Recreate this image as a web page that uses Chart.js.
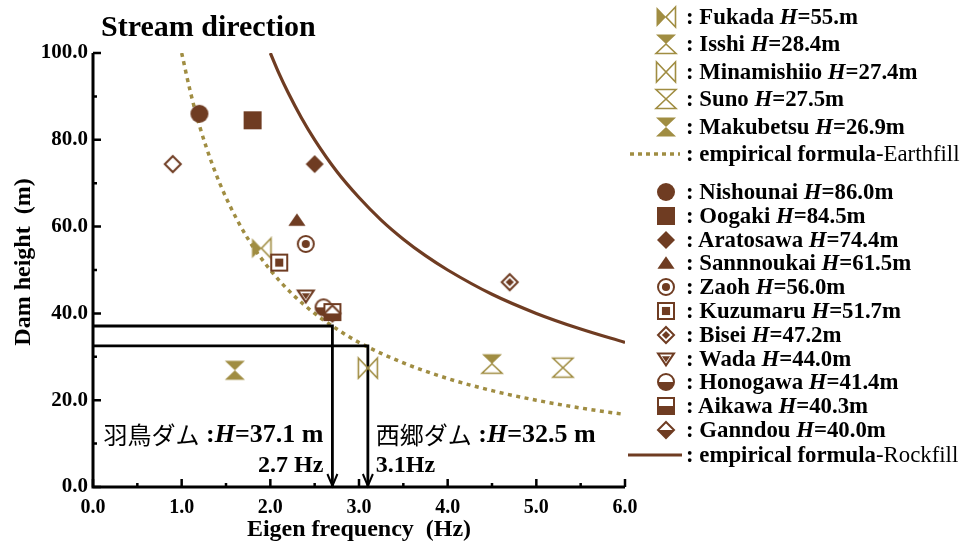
<!DOCTYPE html>
<html>
<head>
<meta charset="utf-8">
<title>Stream direction</title>
<script src="https://cdn.jsdelivr.net/npm/chart.js@4.4.1/dist/chart.umd.min.js"></script>
<style>
  body { margin: 0; background: #fff; }
  #wrap { position: relative; width: 970px; height: 547px; overflow: hidden; }
  #chart { position: absolute; left: 0; top: 0; }
  .item { position: absolute; left: 626px; height: 26px; display: flex; align-items: center;
          white-space: nowrap; font: bold 22.8px "Liberation Serif", serif; color: #000; }
  .item canvas { display: block; margin-right: 2px; }
  .item .reg { font-weight: normal; }
</style>
</head>
<body>
<div id="wrap">
  <canvas id="chart" width="970" height="547"></canvas>
  <div id="legend"></div>
</div>
<script>
// earthfill dams
const earthNames = ['Fukada', 'Isshi', 'Minamishiio', 'Suno', 'Makubetsu'];
const earthHeightText = ['55.m', '28.4m', '27.4m', '27.5m', '26.9m'];
const earthFreq = [1.9, 4.5, 3.1, 5.3, 1.6];
const earthHeight = [55.0, 28.4, 27.4, 27.5, 26.9];
const earthMarks = ['bowtieHalf', 'hourTop', 'bowtieOpen', 'hourOpen', 'hourFull'];

// rockfill dams
const rockNames = ['Nishounai', 'Oogaki', 'Aratosawa', 'Sannnoukai', 'Zaoh', 'Kuzumaru',
                   'Bisei', 'Wada', 'Honogawa', 'Aikawa', 'Ganndou'];
const rockHeightText = ['86.0m', '84.5m', '74.4m', '61.5m', '56.0m', '51.7m',
                        '47.2m', '44.0m', '41.4m', '40.3m', '40.0m'];
const rockFreq = [1.2, 1.8, 2.5, 2.3, 2.4, 2.1, 4.7, 2.4, 2.6, 2.7, 2.7];
const rockHeight = [86.0, 84.5, 74.4, 61.5, 56.0, 51.7, 47.2, 44.0, 41.4, 40.3, 40.0];
const rockMarks = ['circle', 'square', 'diamond', 'triangle', 'circleDot', 'squareDot',
                   'diamondDot', 'triDownDot', 'circleHalf', 'squareHalf', 'diamondHalf'];

// point with no legend entry
const extraFreq = [0.9];
const extraHeight = [74.4];

// empirical formula curves
const earthCurveFreq = [1.0, 1.1, 1.2, 1.35, 1.5, 1.75, 2.0, 2.25, 2.5, 2.75, 3.0, 3.5, 4.0, 4.5, 5.0, 5.5, 6.0];
const earthCurveHeight = [100, 90.9, 83.3, 74.1, 66.7, 57.1, 50, 44.4, 40, 36.4, 33.3, 28.6, 25, 22.2, 20, 18.2, 16.7];
const rockCurveFreq = [2.0, 2.1, 2.2, 2.35, 2.5, 2.75, 3.0, 3.25, 3.5, 3.75, 4.0, 4.5, 5.0, 5.5, 6.0];
const rockCurveHeight = [100, 95.2, 90.9, 85.1, 80, 72.7, 66.7, 61.5, 57.1, 53.3, 50, 44.4, 40, 36.4, 33.3];

// the two dams
const siteNames = ['羽鳥ダム', '西郷ダム'];
const siteFreq = [2.7, 3.1];
const siteHeight = [37.1, 32.5];
const siteHeightText = ['=37.1 m', '=32.5 m'];
const siteFreqText = ['2.7 Hz', '3.1Hz'];

const xTicks = [0, 1, 2, 3, 4, 5, 6];
const yTicks = [0, 20, 40, 60, 80, 100];

const BROWN = '#6f3c22';
const OLIVE = '#a08d42';
const SERIF = '"Liberation Serif", "Times New Roman", serif';

function tracePath(ctx, kind, r) {
  ctx.beginPath();
  if (kind.startsWith('circle')) {
    ctx.arc(0, 0, r, 0, Math.PI * 2);
  } else if (kind.startsWith('square')) {
    ctx.rect(-r, -r, 2 * r, 2 * r);
  } else if (kind.startsWith('diamond')) {
    ctx.moveTo(0, -r); ctx.lineTo(r, 0); ctx.lineTo(0, r); ctx.lineTo(-r, 0); ctx.closePath();
  } else if (kind === 'triangle') {
    ctx.moveTo(0, -r * 0.75); ctx.lineTo(r * 0.95, r * 0.65); ctx.lineTo(-r * 0.95, r * 0.65); ctx.closePath();
  } else if (kind.startsWith('triDown')) {
    ctx.moveTo(-r, -r * 0.7); ctx.lineTo(r, -r * 0.7); ctx.lineTo(0, r * 0.8); ctx.closePath();
  }
}

function drawTie(ctx, kind) {
  const w = 10, h = 9.5;
  let a, b;
  if (kind.startsWith('hour')) {
    a = [[-w, -h], [w, -h], [0, 0]];
    b = [[-w, h], [w, h], [0, 0]];
  } else {
    a = [[-h, -w], [-h, w], [0, 0]];
    b = [[h, -w], [h, w], [0, 0]];
  }
  const fillA = kind === 'hourFull' || kind === 'hourTop' || kind === 'bowtieHalf';
  const fillB = kind === 'hourFull';
  [[a, fillA], [b, fillB]].forEach(([t, f]) => {
    ctx.beginPath();
    ctx.moveTo(t[0][0], t[0][1]); ctx.lineTo(t[1][0], t[1][1]); ctx.lineTo(t[2][0], t[2][1]);
    ctx.closePath();
    if (f) { ctx.fill(); } else { ctx.lineWidth = 1.6; ctx.stroke(); }
  });
}

function makeMark(kind, color) {
  const c = document.createElement('canvas');
  c.width = 24; c.height = 24;
  const ctx = c.getContext('2d');
  ctx.translate(12, 12);
  ctx.fillStyle = color; ctx.strokeStyle = color; ctx.lineWidth = 2;
  const r = 9;
  if (kind.startsWith('hour') || kind.startsWith('bowtie')) {
    drawTie(ctx, kind);
    return c;
  }
  if (['circle', 'square', 'diamond', 'triangle'].includes(kind)) {
    tracePath(ctx, kind, r);
    ctx.fill();
    return c;
  }
  tracePath(ctx, kind, r - 1);
  ctx.fillStyle = '#fff';
  ctx.fill();
  ctx.fillStyle = color;
  if (kind.endsWith('Half')) {
    ctx.save();
    ctx.beginPath(); ctx.rect(-r - 2, 0, 2 * r + 4, r + 2); ctx.clip();
    tracePath(ctx, kind, r - 1); ctx.fill();
    ctx.restore();
  } else if (kind.endsWith('Dot')) {
    tracePath(ctx, kind, r * 0.45);
    ctx.fill();
  }
  tracePath(ctx, kind, r - 1);
  ctx.stroke();
  return c;
}

const pts = (xs, ys) => xs.map((v, i) => ({ x: v, y: ys[i] }));

const datasets = [];
rockNames.forEach((n, i) => datasets.push({
  label: n,
  data: [{ x: rockFreq[i], y: rockHeight[i] }],
  pointStyle: makeMark(rockMarks[i], BROWN),
  pointRadius: 9,
  order: rockNames.length - i
}));
earthNames.forEach((n, i) => datasets.push({
  label: n,
  data: [{ x: earthFreq[i], y: earthHeight[i] }],
  pointStyle: makeMark(earthMarks[i], OLIVE),
  pointRadius: 9,
  order: 14
}));
datasets.push({
  label: 'extra',
  data: pts(extraFreq, extraHeight),
  pointStyle: makeMark('diamondOpen', BROWN),
  pointRadius: 9,
  order: 14
});
datasets.push({
  type: 'line',
  label: 'empirical formula-Earthfill',
  data: pts(earthCurveFreq, earthCurveHeight),
  borderColor: OLIVE,
  borderWidth: 3.5,
  borderDash: [4, 4.5],
  pointRadius: 0,
  cubicInterpolationMode: 'monotone',
  order: 20
});
datasets.push({
  type: 'line',
  label: 'empirical formula-Rockfill',
  data: pts(rockCurveFreq, rockCurveHeight),
  borderColor: BROWN,
  borderWidth: 3.2,
  pointRadius: 0,
  cubicInterpolationMode: 'monotone',
  order: 20
});
siteNames.forEach((n, i) => datasets.push({
  type: 'line',
  label: n,
  data: [{ x: 0, y: siteHeight[i] }, { x: siteFreq[i], y: siteHeight[i] }, { x: siteFreq[i], y: 0 }],
  borderColor: '#000',
  borderWidth: 2.8,
  pointRadius: 0,
  tension: 0,
  order: 19
}));

function drawRuns(ctx, parts, x, y, align) {
  let w = 0;
  parts.forEach(p => { ctx.font = p[1]; w += ctx.measureText(p[0]).width; });
  let cx = align === 'right' ? x - w : x;
  ctx.textAlign = 'left';
  ctx.textBaseline = 'middle';
  parts.forEach(p => {
    ctx.font = p[1];
    ctx.fillText(p[0], cx, y);
    cx += ctx.measureText(p[0]).width;
  });
}

// axes, inward ticks, arrows and text
const frame = {
  id: 'frame',
  afterDraw(chart) {
    const { ctx, chartArea: a, scales: { x, y } } = chart;
    ctx.save();
    ctx.strokeStyle = '#000';
    ctx.fillStyle = '#000';
    ctx.lineWidth = 2.5;
    ctx.beginPath();
    for (let v = 0; v <= 100; v += 10) {
      const py = y.getPixelForValue(v);
      ctx.moveTo(a.left, py); ctx.lineTo(a.left + (v % 20 === 0 ? 8 : 4), py);
    }
    for (let v = 0; v <= 6; v += 0.5) {
      const px = x.getPixelForValue(v);
      ctx.moveTo(px, a.bottom); ctx.lineTo(px, a.bottom - (v % 1 === 0 ? 8 : 4));
    }
    ctx.stroke();

    ctx.lineWidth = 3;
    ctx.beginPath();
    ctx.moveTo(a.left, a.top); ctx.lineTo(a.left, a.bottom); ctx.lineTo(a.right, a.bottom);
    ctx.stroke();

    const bold = 'bold 24px ' + SERIF;
    const boldBig = 'bold 26px ' + SERIF;
    const boldIt = 'italic bold 26px ' + SERIF;
    const jp = '24px "Noto Sans CJK JP", sans-serif';
    siteFreq.forEach((f, i) => {
      const px = x.getPixelForValue(f);
      const py = y.getPixelForValue(0);
      ctx.lineWidth = 2;
      ctx.beginPath();
      ctx.moveTo(px - 5, py - 13); ctx.lineTo(px, py - 1); ctx.lineTo(px + 5, py - 13);
      ctx.stroke();
      const line1 = [[siteNames[i], jp], [' :', boldBig], ['H', boldIt], [siteHeightText[i], boldBig]];
      if (i === 0) {
        drawRuns(ctx, line1, px - 9, a.bottom - 52, 'right');
        drawRuns(ctx, [[siteFreqText[i], bold]], px - 9, a.bottom - 21, 'right');
      } else {
        drawRuns(ctx, line1, px + 8, a.bottom - 52, 'left');
        drawRuns(ctx, [[siteFreqText[i], bold]], px + 8, a.bottom - 21, 'left');
      }
    });

    drawRuns(ctx, [['Stream direction', 'bold 30px ' + SERIF]], 101, 28, 'left');
    ctx.font = bold;
    ctx.textAlign = 'center';
    ctx.textBaseline = 'middle';
    ctx.fillText('Eigen frequency  (Hz)', (a.left + a.right) / 2, 530);
    ctx.translate(24, 262);
    ctx.rotate(-Math.PI / 2);
    ctx.fillText('Dam height  (m)', 0, 0);
    ctx.restore();
  }
};

new Chart(document.getElementById('chart'), {
  type: 'scatter',
  data: { datasets: datasets },
  options: {
    responsive: false,
    animation: false,
    layout: { padding: { left: 0, top: 53, right: 345, bottom: 0 } },
    plugins: { legend: { display: false }, tooltip: { enabled: false } },
    scales: {
      x: {
        type: 'linear', min: 0, max: 6,
        afterBuildTicks: s => { s.ticks = xTicks.map(v => ({ value: v })); },
        afterFit: s => { s.height = 60; },
        grid: { display: false, drawTicks: false },
        border: { display: false },
        ticks: { color: '#000', padding: 9, font: { family: SERIF, size: 20, weight: 'bold' },
                 callback: v => v.toFixed(1) }
      },
      y: {
        type: 'linear', min: 0, max: 100,
        afterBuildTicks: s => { s.ticks = yTicks.map(v => ({ value: v })); },
        afterFit: s => { s.width = 93; },
        grid: { display: false, drawTicks: false },
        border: { display: false },
        ticks: { color: '#000', padding: 5, font: { family: SERIF, size: 21, weight: 'bold' },
                 callback: v => v.toFixed(1) }
      }
    }
  },
  plugins: [frame]
});

// legend at the right
const legend = document.getElementById('legend');
function addRow(top, draw, html) {
  const row = document.createElement('div');
  row.className = 'item';
  row.style.top = (top - 13) + 'px';
  const c = document.createElement('canvas');
  c.width = 58; c.height = 26;
  draw(c.getContext('2d'));
  row.appendChild(c);
  const s = document.createElement('span');
  s.innerHTML = html;
  row.appendChild(s);
  legend.appendChild(row);
}
const markDraw = (kind, color) => ctx => ctx.drawImage(makeMark(kind, color), 40 - 12, 13 - 12);

earthNames.forEach((n, i) => addRow(17 + i * 27.4, markDraw(earthMarks[i], OLIVE),
  ': ' + n + ' <i>H</i>=' + earthHeightText[i]));
addRow(154, ctx => {
  ctx.strokeStyle = OLIVE; ctx.lineWidth = 3.5; ctx.setLineDash([4, 4]);
  ctx.beginPath(); ctx.moveTo(4, 13); ctx.lineTo(54, 13); ctx.stroke();
}, ': empirical formula<span class="reg">-Earthfill</span>');

rockNames.forEach((n, i) => addRow(192 + i * 23.8, markDraw(rockMarks[i], BROWN),
  ': ' + n + ' <i>H</i>=' + rockHeightText[i]));
addRow(455, ctx => {
  ctx.strokeStyle = BROWN; ctx.lineWidth = 3;
  ctx.beginPath(); ctx.moveTo(2, 13); ctx.lineTo(56, 13); ctx.stroke();
}, ': empirical formula<span class="reg">-Rockfill</span>');
</script>
</body>
</html>
